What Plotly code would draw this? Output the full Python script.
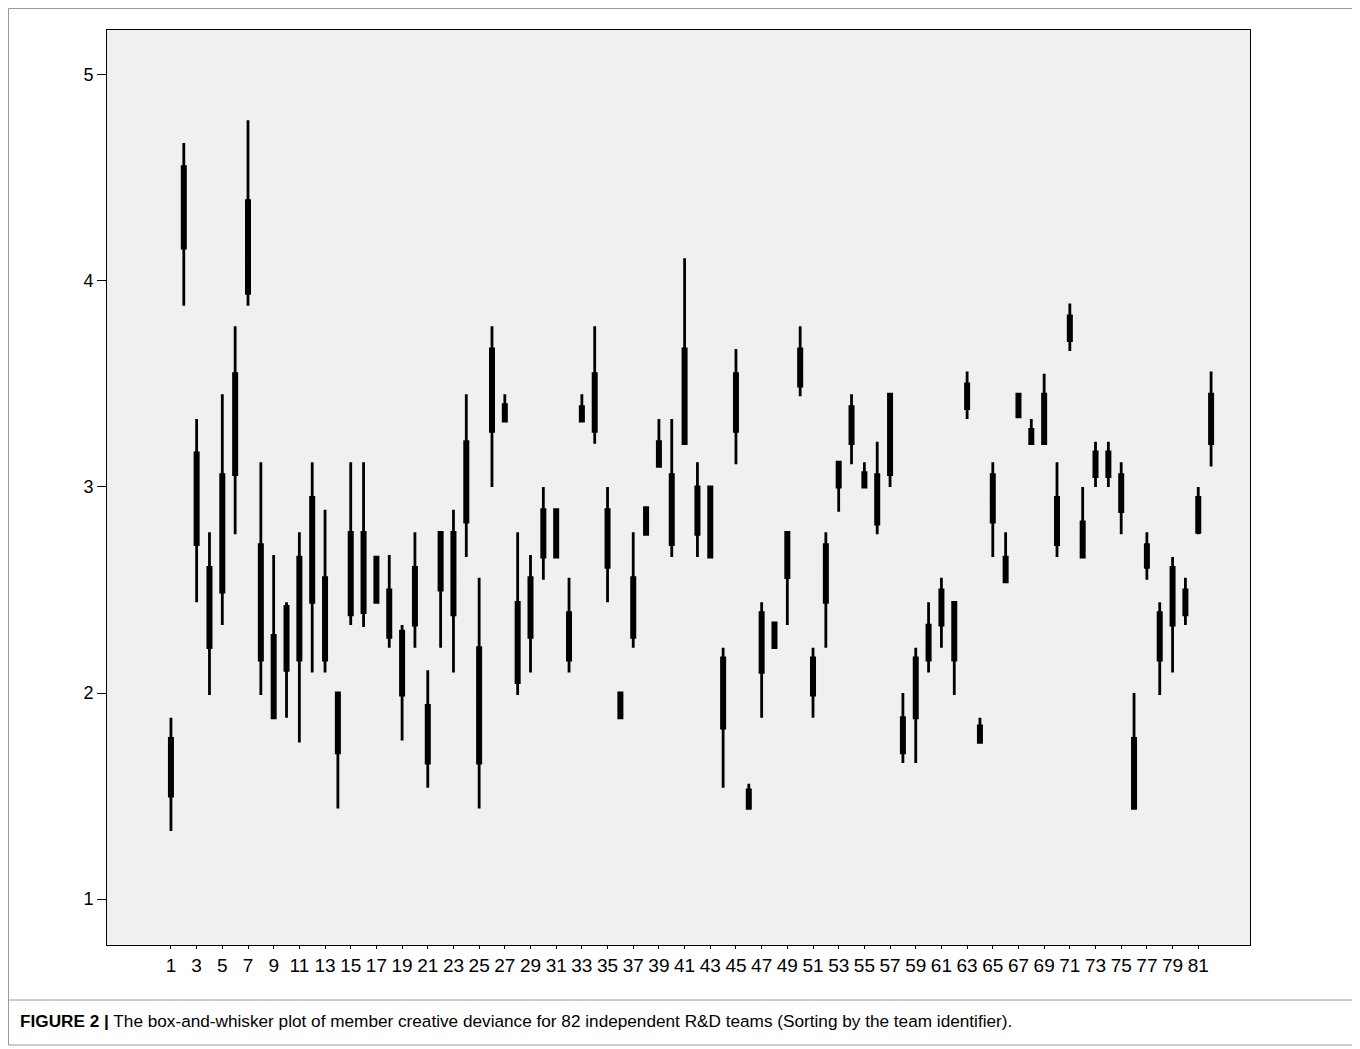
import plotly.graph_objects as go

teams = list(range(1, 83))

upper_whisker = [1.88, 4.67, 3.33, 2.78, 3.45, 3.78, 4.78, 3.12, 2.67, 2.44,
                 2.78, 3.12, 2.89, 2.00, 3.12, 3.12, 2.66, 2.67, 2.33, 2.78,
                 2.11, 2.78, 2.89, 3.45, 2.56, 3.78, 3.45, 2.78, 2.67, 3.00,
                 2.89, 2.56, 3.45, 3.78, 3.00, 2.00, 2.78, 2.90, 3.33, 3.33,
                 4.11, 3.12, 3.00, 2.22, 3.67, 1.56, 2.44, 2.34, 2.78, 3.78,
                 2.22, 2.78, 3.12, 3.45, 3.12, 3.22, 3.45, 2.00, 2.22, 2.44,
                 2.56, 2.44, 3.56, 1.88, 3.12, 2.78, 3.45, 3.33, 3.55, 3.12,
                 3.89, 3.00, 3.22, 3.22, 3.12, 2.00, 2.78, 2.44, 2.66, 2.56,
                 3.00, 3.56]
q3 = [1.78, 4.555, 3.165, 2.61, 3.06, 3.55, 4.39, 2.72, 2.28, 2.42,
      2.66, 2.95, 2.56, 2.00, 2.78, 2.78, 2.66, 2.50, 2.30, 2.61,
      1.94, 2.78, 2.78, 3.22, 2.22, 3.67, 3.40, 2.44, 2.56, 2.89,
      2.89, 2.39, 3.39, 3.55, 2.89, 2.00, 2.56, 2.90, 3.22, 3.06,
      3.67, 3.00, 3.00, 2.17, 3.55, 1.53, 2.39, 2.34, 2.78, 3.67,
      2.17, 2.72, 3.12, 3.39, 3.07, 3.06, 3.45, 1.88, 2.17, 2.33,
      2.50, 2.44, 3.50, 1.84, 3.06, 2.66, 3.45, 3.28, 3.45, 2.95,
      3.83, 2.83, 3.17, 3.17, 3.06, 1.78, 2.72, 2.39, 2.61, 2.50,
      2.95, 3.45]
median = [1.62, 4.33, 2.95, 2.45, 2.78, 3.33, 4.11, 2.45, 2.11, 2.25,
          2.40, 2.67, 2.33, 1.85, 2.56, 2.56, 2.55, 2.39, 2.15, 2.45,
          1.78, 2.64, 2.56, 3.00, 1.95, 3.45, 3.36, 2.22, 2.40, 2.78,
          2.78, 2.28, 3.36, 3.40, 2.75, 1.94, 2.40, 2.83, 3.16, 2.89,
          3.44, 2.89, 2.83, 2.00, 3.40, 1.49, 2.25, 2.28, 2.67, 3.56,
          2.08, 2.58, 3.06, 3.30, 3.03, 2.94, 3.25, 1.79, 2.02, 2.25,
          2.42, 2.30, 3.44, 1.80, 2.94, 2.60, 3.39, 3.25, 3.33, 2.83,
          3.77, 2.75, 3.11, 3.11, 2.97, 1.61, 2.66, 2.28, 2.47, 2.44,
          2.86, 3.33]
q1 = [1.50, 4.16, 2.72, 2.22, 2.49, 3.06, 3.94, 2.16, 1.88, 2.11,
      2.16, 2.44, 2.16, 1.71, 2.38, 2.39, 2.44, 2.27, 1.99, 2.33,
      1.66, 2.50, 2.38, 2.83, 1.66, 3.27, 3.32, 2.05, 2.27, 2.66,
      2.66, 2.16, 3.32, 3.27, 2.61, 1.88, 2.27, 2.77, 3.10, 2.72,
      3.21, 2.77, 2.66, 1.83, 3.27, 1.44, 2.10, 2.22, 2.56, 3.49,
      1.99, 2.44, 3.00, 3.21, 3.00, 2.82, 3.06, 1.71, 1.88, 2.16,
      2.33, 2.16, 3.38, 1.76, 2.83, 2.54, 3.34, 3.21, 3.21, 2.72,
      3.71, 2.66, 3.05, 3.05, 2.88, 1.44, 2.61, 2.16, 2.33, 2.38,
      2.78, 3.21]
lower_whisker = [1.33, 3.88, 2.44, 1.99, 2.33, 2.77, 3.88, 1.99, 1.88, 1.88,
                 1.76, 2.10, 2.10, 1.44, 2.33, 2.32, 2.44, 2.22, 1.77, 2.22,
                 1.54, 2.22, 2.10, 2.66, 1.44, 3.00, 3.32, 1.99, 2.10, 2.55,
                 2.66, 2.10, 3.32, 3.21, 2.44, 1.88, 2.22, 2.77, 3.10, 2.66,
                 3.21, 2.66, 2.66, 1.54, 3.11, 1.44, 1.88, 2.22, 2.33, 3.44,
                 1.88, 2.22, 2.88, 3.11, 3.00, 2.77, 3.00, 1.66, 1.66, 2.10,
                 2.22, 1.99, 3.33, 1.76, 2.66, 2.54, 3.34, 3.21, 3.21, 2.66,
                 3.66, 2.66, 3.00, 3.00, 2.77, 1.44, 2.55, 1.99, 2.10, 2.33,
                 2.77, 3.10]

x_tick_labels = [str(n) for n in range(1, 82, 2)]
y_ticks = [1, 2, 3, 4, 5]

fig = go.Figure()
fig.add_trace(go.Box(
    x=teams,
    q1=q1, median=median, q3=q3,
    lowerfence=lower_whisker, upperfence=upper_whisker,
    fillcolor="black",
    line=dict(color="black", width=2.8),
    width=0.25,
    whiskerwidth=0,
    boxpoints=False,
    showlegend=False,
))

# page has an 8px body margin, so the figure is 8px smaller than the window
OFF = 8
W, H = 1352, 1041
L, R, T, B = 107 - OFF, 110, 30 - OFF, 104
pw, ph = W - L - R, H - T - B


def px(x):
    return (x - OFF - L) / pw


def py(y):
    return (H - B - (y - OFF)) / ph


fig.update_layout(
    width=W, height=H,
    margin=dict(l=L, r=R, t=T, b=B),
    paper_bgcolor="white",
    plot_bgcolor="#f0f0f0",
    font=dict(family="Liberation Sans, Arial, sans-serif", color="black", size=18),
    xaxis=dict(
        range=[-3.98, 85.03],
        tickmode="array",
        tickvals=[int(t) for t in x_tick_labels],
        ticktext=x_tick_labels,
        ticks="outside", ticklen=3, tickcolor="black", tickwidth=1,
        showgrid=False, zeroline=False,
        showline=True, linecolor="black", linewidth=1, mirror=True,
        tickangle=0,
        tickfont=dict(size=19),
    ),
    yaxis=dict(
        range=[0.777, 5.218],
        tickmode="array",
        tickvals=y_ticks,
        ticks="outside", ticklen=9, tickcolor="black", tickwidth=1,
        showgrid=False, zeroline=False,
        showline=True, linecolor="black", linewidth=1, mirror=True,
        tickfont=dict(size=18),
    ),
    shapes=[
        dict(type="rect", xref="paper", yref="paper",
             x0=px(8.5), x1=px(1355), y0=py(1045), y1=py(8.5),
             line=dict(color="#9a9a9a", width=1), layer="below"),
        dict(type="line", xref="paper", yref="paper",
             x0=px(8.5), x1=px(1355), y0=py(1000), y1=py(1000),
             line=dict(color="#9a9a9a", width=1)),
    ],
    annotations=[
        dict(xref="paper", yref="paper", x=px(18), y=py(1021),
             xanchor="left", yanchor="middle", showarrow=False,
             text="<b>FIGURE 2 |</b> The box-and-whisker plot of member creative deviance for 82 independent R&amp;D teams (Sorting by the team identifier).",
             font=dict(size=17.2, color="black", family="Liberation Sans, Arial, sans-serif")),
    ],
)

fig.write_html("out.html")
